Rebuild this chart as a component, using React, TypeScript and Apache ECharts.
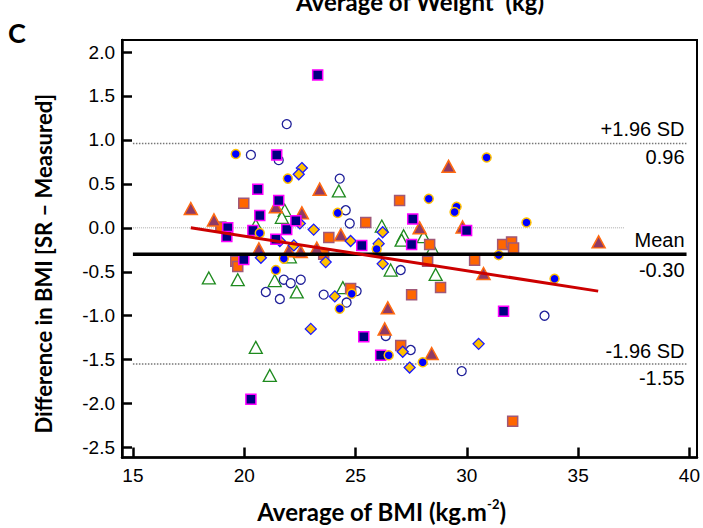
import React, { useEffect, useRef } from "react";
import * as echarts from "echarts";

// ---- axis ticks ----
const xTicks = [15, 20, 25, 30, 35, 40];
const yTicks = [-2.5, -2.0, -1.5, -1.0, -0.5, 0.0, 0.5, 1.0, 1.5, 2.0];

// ---- Bland-Altman statistics ----
const meanDiff = -0.3;
const upperLoA = 0.96;
const lowerLoA = -1.55;
const refStartX = 15;
const refEndX = 39.87;
const zeroEndX = 37.1;
const regressionLine = [
  [17.6, 0.0],
  [35.9, -0.72],
];

// ---- data groups ----
const blueDots = [
  [19.62, 0.84], [21.96, 0.56], [20.7, -0.06], [21.78, -0.35], [21.42, -0.48],
  [24.2, 0.17], [28.29, 0.33], [29.54, 0.24], [29.45, 0.18], [25.95, -0.24],
  [24.83, -0.75], [24.29, -0.92], [26.49, -1.45], [28.02, -1.53], [30.89, 0.8],
  [32.68, 0.06], [31.43, -0.31], [33.94, -0.58],
];
const openCircles = [
  [20.3, 0.83], [21.55, 0.77], [21.91, 1.18], [24.29, 0.56], [24.56, 0.2],
  [24.74, 0.05], [21.78, -0.59], [22.09, -0.63], [22.54, -0.59], [20.97, -0.73],
  [21.6, -0.81], [25.05, -0.72], [23.57, -0.76], [24.6, -0.85], [27.03, -0.48],
  [26.36, -1.23], [27.48, -1.39], [29.77, -1.63], [33.49, -1.0],
];
const navySquares = [
  [23.3, 1.74], [21.46, 0.83], [20.61, 0.44], [21.55, 0.31], [20.7, 0.14],
  [19.26, 0.0], [19.22, -0.1], [20.39, -0.03], [21.91, -0.02], [22.32, 0.08],
  [21.42, -0.13], [19.98, -0.36], [20.3, -1.95], [27.57, 0.1], [29.99, -0.03],
  [25.28, -0.2], [27.52, -0.19], [25.37, -1.24], [26.13, -1.45], [31.65, -0.95],
];
const orangeSquares = [
  [19.98, 0.28], [18.95, 0.01], [19.62, -0.38], [19.71, -0.44], [26.98, 0.31],
  [25.46, 0.06], [23.8, -0.11], [23.57, -0.3], [28.33, -0.19], [28.24, -0.38],
  [30.35, -0.37], [28.82, -0.68], [24.78, -0.69], [27.52, -0.76], [27.03, -1.34],
  [31.61, -0.19], [32.01, -0.16], [32.1, -0.23], [32.06, -2.2],
];
const mauveTriangles = [
  [17.6, 0.22], [21.42, 0.24], [18.64, 0.09], [22.59, 0.17], [23.39, 0.44],
  [29.18, 0.7], [27.88, 0.0], [29.81, 0.01], [24.34, -0.08], [20.66, -0.24],
  [22.0, -0.26], [22.54, -0.27], [23.26, -0.23], [26.45, -0.91], [26.31, -1.15],
  [28.42, -1.43], [35.92, -0.16], [30.75, -0.52],
];
const greenTriangles = [
  [21.82, 0.2], [21.69, 0.12], [20.52, 0.03], [24.25, 0.42], [26.18, 0.02],
  [27.16, -0.09], [27.07, -0.14], [28.06, -0.1], [28.46, -0.24], [22.05, -0.33],
  [18.41, -0.57], [19.71, -0.59], [21.37, -0.6], [22.36, -0.73], [24.43, -0.68],
  [26.58, -0.48], [28.6, -0.53], [20.52, -1.36], [21.15, -1.68],
];
const goldDiamonds = [
  [22.59, 0.68], [22.45, 0.61], [22.5, 0.05], [23.12, -0.02], [21.6, -0.15],
  [22.23, -0.2], [20.75, -0.34], [26.22, -0.05], [24.78, -0.15], [26.04, -0.18],
  [23.66, -0.39], [26.22, -0.41], [24.07, -0.78], [22.99, -1.15], [27.12, -1.41],
  [27.43, -1.59], [30.53, -1.32],
];

const LABEL_FONT = "'Liberation Sans', Arial, sans-serif";
const TITLE_FONT = "Lato, 'Open Sans', sans-serif";

function scatter(name: string, data: number[][], symbol: string, size: any, fill: string, border: string, bw: number) {
  return {
    name,
    type: "scatter",
    data,
    symbol,
    symbolSize: size,
    itemStyle: { color: fill, borderColor: border, borderWidth: bw, opacity: 1 },
    silent: true,
    z: 3,
  };
}

function refLine(y: number, x0: number, x1: number, color: string, width: number, type: string, z: number) {
  return {
    type: "line",
    data: [
      [x0, y],
      [x1, y],
    ],
    symbol: "none",
    lineStyle: { color, width, type },
    silent: true,
    z,
  };
}

export default function App() {
  const ref = useRef<HTMLDivElement>(null);
  useEffect(() => {
    if (!ref.current) return;
    const chart = echarts.init(ref.current, undefined, { renderer: "svg" });
    const option: any = {
      animation: false,
      backgroundColor: "#ffffff",
      grid: {
        left: 122,
        right: 5,
        top: 40,
        bottom: 69,
        show: true,
        borderColor: "#000",
        borderWidth: 2,
        backgroundColor: "transparent",
      },
      xAxis: {
        type: "value",
        min: 14.51,
        max: 40.34,
        splitLine: { show: false },
        axisLine: { onZero: false, lineStyle: { color: "#000", width: 2.5 } },
        axisTick: { inside: true, length: 10, customValues: xTicks, lineStyle: { color: "#000", width: 2.5 } },
        axisLabel: {
          customValues: xTicks,
          margin: 8,
          color: "#000",
          fontSize: 19,
          fontFamily: LABEL_FONT,
        },
        name: "{a|Average of BMI (kg.m}{s|-2}{a|)}",
        nameLocation: "middle",
        nameGap: 40,
        nameTextStyle: {
          padding: [0, 56, 0, 0],
          rich: {
            a: { fontSize: 24, fontWeight: "bold", fontFamily: TITLE_FONT, color: "#000", lineHeight: 27 },
            s: { fontSize: 13, fontWeight: "bold", fontFamily: TITLE_FONT, color: "#000", lineHeight: 13, verticalAlign: "top" },
          },
        },
      },
      yAxis: {
        type: "value",
        min: -2.613,
        max: 2.137,
        splitLine: { show: false },
        axisLine: { onZero: false, lineStyle: { color: "#000", width: 2.5 } },
        axisTick: { inside: true, length: 10, customValues: yTicks, lineStyle: { color: "#000", width: 2.5 } },
        axisLabel: {
          customValues: yTicks,
          margin: 7,
          color: "#000",
          fontSize: 19,
          fontFamily: LABEL_FONT,
          formatter: (v: number) => v.toFixed(1),
        },
        name: "Difference in BMI [SR – Measured]",
        nameLocation: "middle",
        nameGap: 68,
        nameRotate: 90,
        nameTextStyle: {
          fontSize: 22,
          fontWeight: "bold",
          fontFamily: TITLE_FONT,
          color: "#000",
          padding: [0, 30, 0, 0],
        },
      },
      series: [
        refLine(0, refStartX, zeroEndX, "#aaaaaa", 1, "dotted", 1),
        refLine(upperLoA, refStartX, refEndX, "#777777", 1.5, "dotted", 1),
        refLine(lowerLoA, refStartX, refEndX, "#777777", 1.5, "dotted", 1),
        scatter("Open circles", openCircles, "circle", 9, "#ffffff", "#1f1f99", 1.3),
        scatter("Green triangles", greenTriangles, "triangle", [13, 12], "#ffffff", "#1e8a1e", 1.3),
        scatter("Orange squares", orangeSquares, "rect", 10, "#ff6600", "#a05878", 1.5),
        scatter("Mauve triangles", mauveTriangles, "triangle", [13, 12], "#8e3a66", "#ff6a10", 1.5),
        scatter("Gold diamonds", goldDiamonds, "diamond", [11, 11], "#ffc000", "#1a1aff", 1.3),
        scatter("Navy squares", navySquares, "rect", 10, "#000080", "#ff00ff", 1.5),
        scatter("Blue dots", blueDots, "circle", 9, "#0000ff", "#ffc000", 1.5),
        refLine(meanDiff, refStartX, refEndX, "#000000", 3.5, "solid", 5),
        {
          type: "line",
          data: regressionLine,
          symbol: "none",
          lineStyle: { color: "#cc0000", width: 3 },
          silent: true,
          z: 6,
        },
      ],
    };
    chart.setOption(option);

    const labelStyle = (text: string, x: number, y: number) => ({
      type: "text",
      x,
      y,
      silent: true,
      style: {
        text,
        fill: "#000",
        font: `20px ${LABEL_FONT}`,
        textAlign: "right",
        textVerticalAlign: "middle",
      },
    });
    const pUp = chart.convertToPixel({ gridIndex: 0 }, [refEndX, upperLoA]) as number[];
    const pMean = chart.convertToPixel({ gridIndex: 0 }, [refEndX, meanDiff]) as number[];
    const pLow = chart.convertToPixel({ gridIndex: 0 }, [refEndX, lowerLoA]) as number[];
    const rx = pUp[0] - 2;
    chart.setOption({
      graphic: [
        labelStyle("+1.96 SD", rx, pUp[1] - 14),
        labelStyle(upperLoA.toFixed(2), rx, pUp[1] + 14),
        labelStyle("Mean", rx, pMean[1] - 14),
        labelStyle(meanDiff.toFixed(2), rx, pMean[1] + 16),
        labelStyle("-1.96 SD", rx, pLow[1] - 13),
        labelStyle(lowerLoA.toFixed(2), rx, pLow[1] + 14),
        {
          type: "text",
          x: 420,
          y: 1,
          silent: true,
          style: {
            text: "Average of Weight  (kg)",
            fill: "#000",
            font: `bold 24px ${TITLE_FONT}`,
            textAlign: "center",
            textVerticalAlign: "middle",
          },
        },
        {
          type: "text",
          x: 8,
          y: 32,
          silent: true,
          style: {
            text: "C",
            fill: "#000",
            font: `bold 27px ${TITLE_FONT}`,
            textAlign: "left",
            textVerticalAlign: "middle",
          },
        },
      ],
    });
    return () => chart.dispose();
  }, []);
  return (
    <div
      ref={ref}
      style={{ position: "fixed", left: 0, top: 0, width: 703, height: 528, background: "#fff" }}
    />
  );
}
